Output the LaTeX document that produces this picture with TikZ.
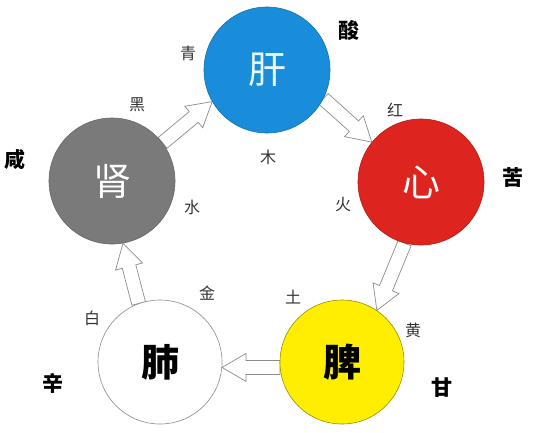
\documentclass[tikz,border=0pt]{standalone}
\usepackage{fontspec}
\newfontfamily\cjk{Noto Sans CJK SC}
\usetikzlibrary{calc,backgrounds}
\definecolor{ganc}{RGB}{26,141,218}
\definecolor{xinc}{RGB}{222,36,30}
\definecolor{shenc}{RGB}{122,122,122}
\definecolor{pic}{RGB}{255,238,0}
\definecolor{edgec}{RGB}{140,140,140}
\newcommand\blockarrow[2]{%
  \coordinate (neck) at ($(#2)!24pt!(#1)$);
  \draw[barrow] ($(#1)!7pt!90:(#2)$) -- ($(neck)!7pt!90:(#2)$) -- ($(neck)!14pt!90:(#2)$) -- (#2)
    -- ($(neck)!14pt!-90:(#2)$) -- ($(neck)!7pt!-90:(#2)$) -- ($(#1)!7pt!-90:(#2)$) -- cycle;}
\begin{document}
\begin{tikzpicture}[x=1pt,y=-1pt,
  organ/.style={circle, minimum size=126pt, inner sep=0pt, line width=0.6pt, font=\cjk\fontsize{38}{38}\selectfont},
  lbl/.style={font=\cjk\fontsize{16}{16}\selectfont, text=black!80, inner sep=0pt},
  taste/.style={font=\cjk\bfseries\fontsize{21}{21}\selectfont, inner sep=0pt},
  barrow/.style={draw=edgec, fill=white, line width=0.7pt, line join=miter}]
\useasboundingbox (0,0) rectangle (554,432);
% organs
\node[organ, fill=ganc, draw=ganc!80!black, text=cyan!10] (gan) at (267,70) {肝};
\node[organ, fill=xinc, draw=xinc!80!black, text=white] (xin) at (421,182) {心};
\node[organ, fill=shenc, draw=shenc!85!black, text=white] (shen) at (112,181) {肾};
\node[organ, fill=white, draw=edgec, minimum size=124pt, font=\cjk\bfseries\fontsize{38}{38}\selectfont] (fei) at (160,362) {肺};
\node[organ, fill=pic, draw=pic!60!black, minimum size=124pt, font=\cjk\bfseries\fontsize{38}{38}\selectfont] (pi) at (342,362) {脾};
% arrows (behind the circles)
\begin{scope}[on background layer]
\fill[white] (0,0) rectangle (554,432);
\blockarrow{shen.37}{gan.210}
\blockarrow{gan.-27}{xin.141}
\blockarrow{xin.255}{pi.56}
\blockarrow{pi.185}{fei.-5}
\blockarrow{fei.110}{shen.-80}
\end{scope}
% labels
\node[lbl] (qing) at (188,53) {青};
\node[lbl] (mu) at (268,157) {木};
\node[lbl] (hong) at (395,110) {红};
\node[lbl] (huo) at (343,205) {火};
\node[lbl] (hei) at (137,105) {黑};
\node[lbl] (shui) at (192,207) {水};
\node[lbl] (jin) at (207,293) {金};
\node[lbl] (bai) at (92,318) {白};
\node[lbl] (tu) at (293,297) {土};
\node[lbl] (huang) at (413,330) {黄};
% tastes
\node[taste] (suan) at (349,31) {酸};
\node[taste] (ku) at (513,177) {苦};
\node[taste] (xian) at (15,160) {咸};
\node[taste] (xinw) at (53,383) {辛};
\node[taste] (gan2) at (442,388) {甘};
\end{tikzpicture}
\end{document}
